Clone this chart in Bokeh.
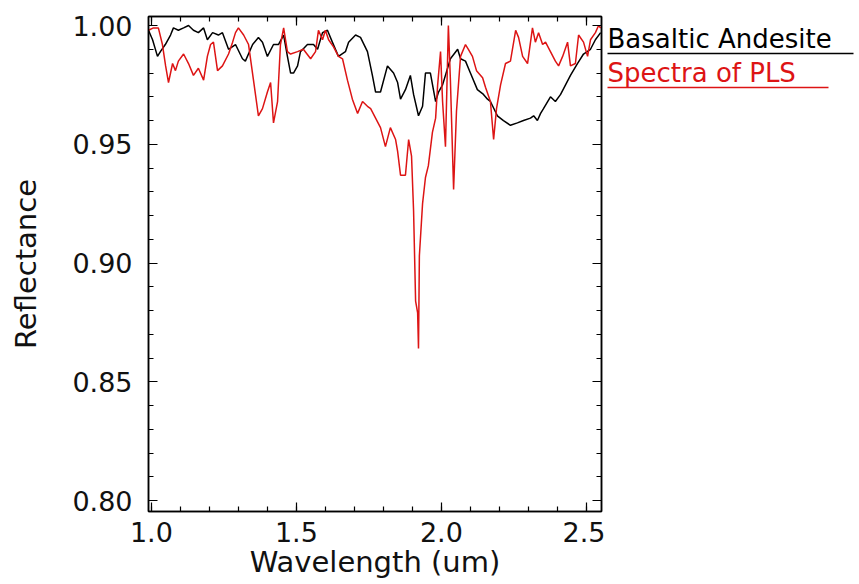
from bokeh.plotting import figure
from bokeh.models import Range1d, LinearAxis, FixedTicker
from bokeh.layouts import row
from bokeh.core.properties import value
from bokeh.embed import file_html
from bokeh.resources import INLINE

# Basaltic Andesite (black)
andesite_wl = [0.990,1.004,1.021,1.031,1.048,1.066,1.076,1.093,1.111,1.128,1.145,1.162,1.180,1.193,1.211,1.231,1.245,1.266,1.290,1.314,
               1.324,1.349,1.369,1.383,1.400,1.421,1.438,1.456,1.469,1.480,1.490,1.504,1.514,1.538,1.559,1.573,1.590,1.607,1.624,1.645,
               1.669,1.680,1.704,1.721,1.745,1.762,1.773,1.790,1.814,1.835,1.849,1.859,1.876,1.893,1.904,1.921,1.935,1.945,1.962,1.980,
               1.990,2.004,2.031,2.056,2.066,2.083,2.100,2.124,2.145,2.159,2.169,2.193,2.214,2.238,2.262,2.283,2.307,2.318,2.331,2.342,
               2.352,2.376,2.393,2.411,2.428,2.445,2.469,2.490,2.514,2.531,2.549]
andesite_refl = [0.998,0.994,0.987,0.989,0.992,0.996,0.999,0.998,0.999,1.000,0.998,0.997,0.999,0.994,0.997,0.996,0.997,0.990,0.992,0.986,
                 0.985,0.992,0.995,0.993,0.987,0.992,0.992,0.996,0.987,0.980,0.980,0.983,0.989,0.992,0.992,0.990,0.997,0.998,0.993,0.987,
                 0.989,0.993,0.996,0.995,0.989,0.979,0.972,0.972,0.983,0.980,0.976,0.969,0.973,0.979,0.971,0.962,0.966,0.980,0.980,0.968,
                 0.972,0.975,0.986,0.990,0.986,0.985,0.980,0.973,0.971,0.969,0.968,0.962,0.960,0.958,0.959,0.960,0.961,0.962,0.960,0.963,
                 0.965,0.970,0.968,0.971,0.975,0.979,0.984,0.988,0.990,0.994,0.997]

# Spectra of PLS (red)
pls_wl = [0.990,1.007,1.024,1.038,1.049,1.059,1.073,1.083,1.093,1.111,1.128,1.145,1.162,1.180,1.193,1.204,1.214,1.228,1.245,1.266,
          1.280,1.290,1.300,1.318,1.335,1.352,1.369,1.383,1.400,1.411,1.421,1.435,1.445,1.456,1.469,1.480,1.504,1.524,1.549,1.566,
          1.576,1.590,1.600,1.611,1.628,1.645,1.659,1.676,1.693,1.711,1.728,1.745,1.756,1.773,1.790,1.807,1.824,1.842,1.849,1.859,
          1.876,1.887,1.897,1.904,1.911,1.918,1.921,1.924,1.935,1.945,1.955,1.969,1.980,1.987,1.997,2.004,2.014,2.024,2.031,2.042,
          2.052,2.066,2.083,2.093,2.107,2.121,2.142,2.152,2.169,2.180,2.190,2.204,2.221,2.238,2.256,2.266,2.280,2.297,2.314,2.324,
          2.335,2.349,2.359,2.376,2.393,2.404,2.418,2.435,2.445,2.462,2.473,2.490,2.504,2.514,2.531,2.542,2.549]
pls_refl = [0.998,0.999,0.999,0.992,0.983,0.976,0.984,0.981,0.985,0.988,0.984,0.979,0.982,0.977,0.987,0.992,0.993,0.981,0.983,0.988,
            0.993,0.997,0.999,0.996,0.992,0.977,0.962,0.965,0.972,0.976,0.959,0.968,0.992,0.999,0.989,0.988,0.989,0.990,0.986,0.989,
            0.998,0.994,0.998,0.994,0.991,0.987,0.986,0.977,0.969,0.963,0.968,0.966,0.965,0.961,0.957,0.949,0.957,0.952,0.947,0.937,
            0.937,0.952,0.945,0.922,0.884,0.879,0.864,0.903,0.925,0.936,0.941,0.955,0.961,0.975,0.989,0.968,0.949,1.000,0.977,0.931,
            0.964,0.987,0.992,0.990,0.987,0.981,0.978,0.974,0.968,0.952,0.965,0.975,0.984,0.985,0.998,0.995,0.987,0.984,0.999,0.993,
            0.997,0.992,0.993,0.989,0.985,0.983,0.987,0.993,0.983,0.984,0.996,0.993,0.987,0.994,0.997,1.000,0.999]

x_ticks = [1.0, 1.5, 2.0, 2.5]
y_ticks = [0.80, 0.85, 0.90, 0.95, 1.00]
x_tick_labels = {1.0: "1.0", 1.5: "1.5", 2.0: "2.0", 2.5: "2.5"}
y_tick_labels = {0.8: "0.80", 0.85: "0.85", 0.9: "0.90", 0.95: "0.95", 1.0: "1.00"}
series_names = ["Basaltic Andesite", "Spectra of PLS"]
series_colors = ["#000000", "#dd1414"]

FONT = "DejaVu Sans"
H = 576
TOP, BOTTOM, FRAME_H = 16, 65, 495

p = figure(width=605, height=H, output_backend="svg", toolbar_location=None,
           x_range=Range1d(0.99, 2.552), y_range=Range1d(0.7954, 1.0038),
           min_border_left=148, min_border_right=4, min_border_top=TOP, min_border_bottom=BOTTOM,
           frame_width=453, frame_height=FRAME_H)
p.background_fill_color = "white"
p.border_fill_color = "white"
p.outline_line_color = "black"
p.outline_line_width = 1.5
p.xgrid.visible = False
p.ygrid.visible = False

def style_axis(ax, show_labels):
    ax.axis_line_color = "black"
    ax.axis_line_width = 1.5
    ax.major_tick_in = 9
    ax.major_tick_out = 0
    ax.minor_tick_in = 5
    ax.minor_tick_out = 0
    ax.major_tick_line_width = 1.2
    ax.minor_tick_line_width = 1.2
    ax.major_label_text_font = FONT
    ax.major_label_text_font_size = "27px"
    ax.major_label_text_color = "#111111"
    ax.axis_label_text_font = FONT
    ax.axis_label_text_font_size = "29px"
    ax.axis_label_text_font_style = "normal"
    ax.axis_label_text_color = "#111111"
    if not show_labels:
        ax.major_label_text_font_size = "0px"
        ax.major_label_text_alpha = 0

xt = FixedTicker(ticks=x_ticks, minor_ticks=[round(1.0 + 0.1 * i, 2) for i in range(0, 16)])
yt = FixedTicker(ticks=y_ticks, minor_ticks=[round(0.80 + 0.01 * i, 2) for i in range(0, 21)])

p.xaxis.ticker = xt
p.yaxis.ticker = yt
p.xaxis.major_label_overrides = x_tick_labels
p.yaxis.major_label_overrides = y_tick_labels
p.xaxis.axis_label = "Wavelength (um)"
p.yaxis.axis_label = "Reflectance"
style_axis(p.xaxis[0], True)
style_axis(p.yaxis[0], True)
p.xaxis.major_label_standoff = 10
p.yaxis.major_label_standoff = 16
p.xaxis.axis_label_standoff = 0
p.yaxis.axis_label_standoff = 26

top_ax = LinearAxis(ticker=xt)
right_ax = LinearAxis(ticker=yt)
style_axis(top_ax, False)
style_axis(right_ax, False)
p.add_layout(top_ax, "above")
p.add_layout(right_ax, "right")

p.line(andesite_wl, andesite_refl, line_color=series_colors[0], line_width=1.5)
p.line(pls_wl, pls_refl, line_color=series_colors[1], line_width=1.5)

# Legend panel (text with underline) to the right; its frame is aligned with the plot frame,
# and its y range is set so that units equal page pixels.
leg = figure(width=250, height=H, output_backend="svg", toolbar_location=None,
             x_range=Range1d(0, 250), y_range=Range1d(TOP + FRAME_H, TOP),
             min_border_left=0, min_border_right=0, min_border_top=TOP, min_border_bottom=BOTTOM,
             frame_height=FRAME_H, outline_line_color=None)
leg.axis.visible = False
leg.grid.visible = False
leg.background_fill_color = "white"
leg.border_fill_color = "white"
leg_text_y = [38, 72]
leg_line_y = [53, 87]
leg_line_len = [246, 221]
leg.text(x=[2, 2], y=leg_text_y, text=series_names, text_color=series_colors,
         text_font=value(FONT), text_font_size="26px", text_baseline="alphabetic", text_align="left")
leg.segment(x0=[2, 2], y0=leg_line_y, x1=[2 + l for l in leg_line_len], y1=leg_line_y,
            line_color=series_colors, line_width=1.6)

layout = row(p, leg, spacing=0)
open("out.html", "w").write(file_html(layout, INLINE))
